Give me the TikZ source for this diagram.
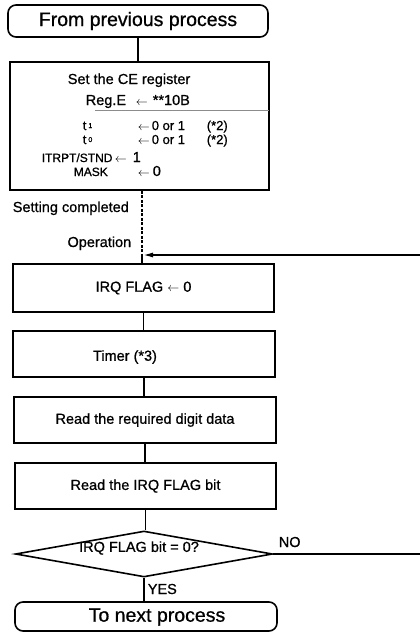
\documentclass[tikz,border=0pt]{standalone}
\usepackage{fontspec}
\setmainfont{Liberation Sans}[FakeBold=0.8]
\usetikzlibrary{shapes.geometric,arrows.meta}
\newcommand\myBody{\fontsize{14.5}{17}\selectfont}
\newcommand\myRow{\fontsize{13}{15}\selectfont}
\newcommand\mySmall{\fontsize{12}{15}\selectfont}
\newcommand\myTerm{\fontsize{19.5}{22}\selectfont}
\newcommand\mySub{\fontsize{7}{8}\selectfont}
\newcommand\lar{{\fontsize{12}{14}\selectfont$\leftarrow$}}
\begin{document}
\begin{tikzpicture}[x=1pt,y=-1pt,line width=1.6pt,
  box/.style={draw,rectangle,inner sep=0pt,font=\myBody},
  term/.style={draw,rectangle,rounded corners=8pt,inner sep=0pt,font=\myTerm},
  lbl/.style={inner sep=0pt,font=\myBody},
  row/.style={inner sep=0pt,font=\myRow},
  small/.style={inner sep=0pt,font=\mySmall},
  conn/.style={line width=1.9pt},
  dashconn/.style={line width=1.1pt,dash pattern=on 3pt off 1.5pt},
  sep/.style={line width=0.7pt,draw=black!45}]
\useasboundingbox (0,0) rectangle (420,637);

% boxes
\node[term,minimum width=260pt,minimum height=32pt] (top) at (138,21) {From previous process};
\node[box,minimum width=259pt,minimum height=128pt] (set) at (139.5,126) {};
\node[box,minimum width=261pt,minimum height=48pt] (irq) at (143.5,288) {IRQ FLAG \lar\ 0};
\node[box,minimum width=262pt,minimum height=46pt] (timer) at (144,354) {};
\node[lbl] (timertxt) at (125,357) {Timer (*3)};
\node[box,minimum width=262pt,minimum height=46pt] (digit) at (145,420) {Read the required digit data};
\node[box,minimum width=261pt,minimum height=46pt] (readirq) at (145.5,486) {Read the IRQ FLAG bit};
\node[draw,diamond,inner sep=0pt,minimum width=257pt,minimum height=46pt,aspect=5.6] (dec) at (144,554) {};
\node[lbl] (dectxt) at (139,548) {IRQ FLAG bit = 0?};
\node[term,minimum width=262pt,minimum height=29pt] (bottom) at (146,616.5) {};
\node[inner sep=0pt,font=\myTerm] (bottomtxt) at (157,617) {To next process};

% set box contents
\node[lbl,anchor=base west] (s1) at (67,84) {Set the CE register};
\node[lbl,anchor=base west] (s2) at (85,105) {Reg.E};
\node[lbl,anchor=base west] (s2a) at (135,105) {\lar};
\node[lbl,anchor=base west] (s2b) at (152,105) {**10B};
\draw[sep] (95,110) -- (269,110);
\node[row,anchor=base west] (t1) at (82,130) {t\hspace{2pt}\raisebox{2pt}{\mySub 1}};
\node[row,anchor=base west] (t1a) at (137,130) {\lar};
\node[row,anchor=base west] (t1b) at (151,130) {0 or 1};
\node[row,anchor=base west] (t1c) at (206,130) {(*2)};
\node[row,anchor=base west] (t0) at (82,144) {t\hspace{2pt}\raisebox{2pt}{\mySub 0}};
\node[row,anchor=base west] (t0a) at (137,144) {\lar};
\node[row,anchor=base west] (t0b) at (151,144) {0 or 1};
\node[row,anchor=base west] (t0c) at (206,144) {(*2)};
\node[small,anchor=base west] (it) at (41,162) {ITRPT/STND};
\node[lbl,anchor=base west] (ita) at (114,162) {\lar};
\node[lbl,anchor=base west] (itb) at (132,162) {1};
\node[small,anchor=base west] (mk) at (73,176) {MASK};
\node[lbl,anchor=base west] (mka) at (137,176) {\lar};
\node[lbl,anchor=base west] (mkb) at (152,176) {0};

% labels
\node[lbl,anchor=base west] (setc) at (12,212) {Setting completed};
\node[lbl,anchor=base east] (oper) at (132,247) {Operation};
\node[lbl,anchor=base west] (no) at (278,547) {NO};
\node[lbl,anchor=base west] (yes) at (147,594) {YES};

% coordinates
\coordinate (join) at (142,255);
\coordinate (retA) at (420,255);
\coordinate (retB) at (420,554);

% connectors
\draw[conn] (top.south) -- (top.south |- set.north);
\draw[dashconn] (set.south -| join) -- (join);
\draw[conn] (join) -- (join |- irq.north);
\draw[conn,-{Latex[length=11pt,width=5pt]}] (retA) -- (join);
\draw[conn] (irq.south) -- (irq.south |- timer.north);
\draw[conn] (timer.south) -- (timer.south |- digit.north);
\draw[conn] (digit.south) -- (digit.south |- readirq.north);
\draw[conn] (readirq.south) -- (readirq.south |- dec.north);
\draw[conn] (dec.east) -- (retB);
\draw[conn] (dec.south) -- (dec.south |- bottom.north);
\end{tikzpicture}
\end{document}
